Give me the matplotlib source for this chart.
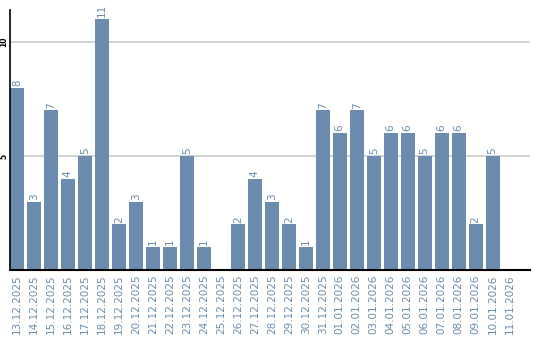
import matplotlib
matplotlib.use("Agg")
import numpy as np
from matplotlib import pyplot as plt

dates = ['13.12.2025', '14.12.2025', '15.12.2025', '16.12.2025', '17.12.2025',
         '18.12.2025', '19.12.2025', '20.12.2025', '21.12.2025', '22.12.2025',
         '23.12.2025', '24.12.2025', '25.12.2025', '26.12.2025', '27.12.2025',
         '28.12.2025', '29.12.2025', '30.12.2025', '31.12.2025', '01.01.2026',
         '02.01.2026', '03.01.2026', '04.01.2026', '05.01.2026', '06.01.2026',
         '07.01.2026', '08.01.2026', '09.01.2026', '10.01.2026', '11.01.2026']
counts = [8, 3, 7, 4, 5, 11, 2, 3, 1, 1, 5, 1, 0, 2, 4, 3, 2, 1, 7, 6,
          7, 5, 6, 6, 5, 6, 6, 2, 5, 0]
yticks = [5, 10]

bar_col = '#6b8cae'

fig = plt.figure(figsize=(5.4, 3.4), dpi=100)
ax = fig.add_axes([10/540, 70/340, 520/540, 260/340])

x = np.arange(len(dates))
ax.bar(x, counts, width=0.82, color=bar_col, zorder=2)

for xi, v in zip(x, counts):
    if v > 0:
        ax.text(xi, v + 0.08, str(v), rotation=90, ha='center', va='bottom',
                color=bar_col, fontsize=7.5)

ax.set_xlim(-0.41, 30.2)
ax.set_ylim(0, 11.4)
ax.set_yticks(yticks)
ax.set_yticklabels([str(t) for t in yticks], rotation=90, va='center',
                   fontsize=5.5, fontweight='bold')
ax.yaxis.grid(True, color='#cccccc', linewidth=1.2, zorder=0)
ax.tick_params(axis='y', length=0, pad=1)
ax.set_xticks(x)
ax.set_xticklabels(dates, rotation=90, color=bar_col, fontsize=7.5)
ax.tick_params(axis='x', length=0, pad=3)

for s in ['top', 'right']:
    ax.spines[s].set_visible(False)
ax.spines['left'].set_linewidth(1.2)
ax.spines['bottom'].set_linewidth(1.5)

fig.savefig('out.png', dpi=100)
